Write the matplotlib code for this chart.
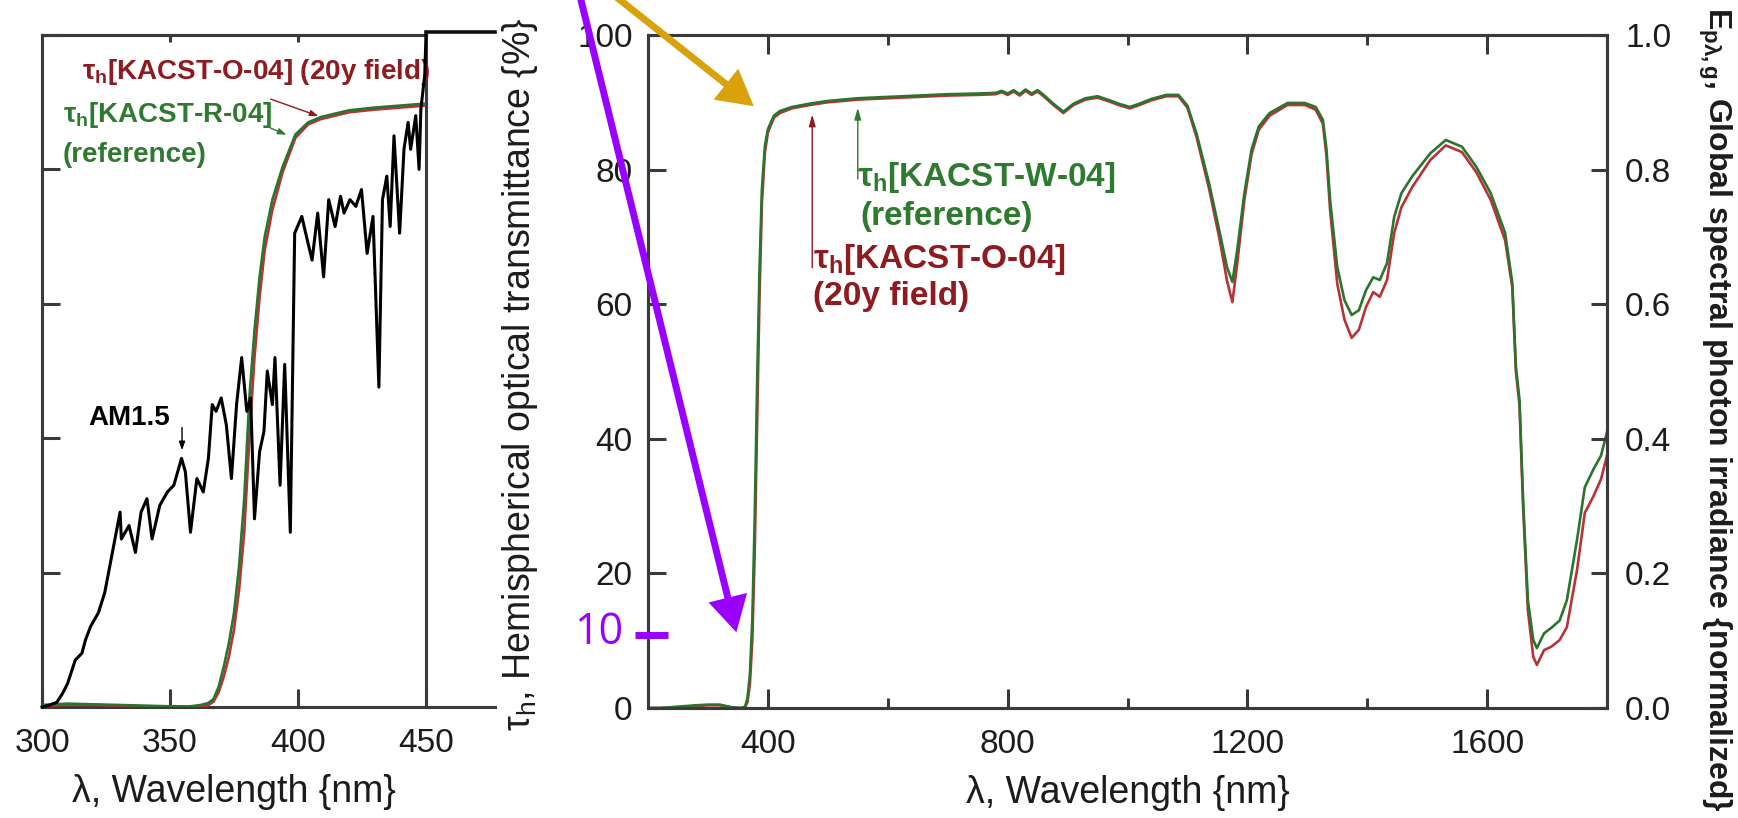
import matplotlib
matplotlib.use("Agg")
import matplotlib.pyplot as plt
from matplotlib.patches import FancyArrowPatch
from matplotlib.lines import Line2D

plt.rcParams['font.family'] = ['Liberation Sans', 'DejaVu Sans']
plt.rcParams['mathtext.fontset'] = 'custom'
plt.rcParams['mathtext.rm'] = 'Liberation Sans'
plt.rcParams['mathtext.it'] = 'Liberation Sans:italic'
plt.rcParams['mathtext.bf'] = 'Liberation Sans:bold'

# ---------------- data: left panel (300-450 nm) ----------------
left_wl_T = [300, 310, 320, 330, 340, 350, 358, 362, 365, 367, 369, 371, 373, 375, 377,
             379, 381, 383, 385, 387, 390, 394, 399, 404, 409, 420, 430, 440, 450]
left_T_R04 = [0.3, 0.5, 0.4, 0.3, 0.2, 0.1, 0.1, 0.3, 0.6, 1.2, 3.0, 6.0, 9.5, 14, 21,
              31, 46, 56, 64, 70, 75.5, 80.4, 85.2, 87, 87.8, 88.8, 89.2, 89.5, 89.8]
left_T_O04 = [0.2, 0.3, 0.3, 0.2, 0.1, 0.1, 0.1, 0.1, 0.3, 0.8, 2.2, 4.5, 7.5, 11.5, 17.5,
              26, 40, 52, 61, 68, 74, 79.6, 84.7, 86.7, 87.5, 88.5, 88.9, 89.2, 89.5]

am15_wl = [300, 303, 305.8, 308, 310, 313, 315.6, 317, 319, 322, 324.5, 327, 328, 330.5, 331,
           334, 336.5, 338.7, 341, 343, 346, 349, 351.5, 354.5, 356, 358, 360.5, 363, 365,
           366.5, 368, 370, 372, 374, 376, 378, 380, 381.5, 383, 385, 386.7, 388, 390, 391,
           393, 394.8, 397, 398.7, 401.5, 403, 405.5, 407.7, 410, 412, 414.5, 416.6, 418,
           420.3, 422.6, 424.8, 427, 429.3, 431.6, 433, 434.7, 436, 437.5, 439.7, 441.4, 443,
           444, 446, 447.3, 448, 449.5, 450]
am15_val = [0.0, 0.003, 0.007, 0.02, 0.035, 0.07, 0.08, 0.10, 0.12, 0.14, 0.17, 0.22, 0.24, 0.29, 0.25,
            0.27, 0.23, 0.29, 0.31, 0.25, 0.30, 0.32, 0.33, 0.37, 0.35, 0.26, 0.34, 0.32, 0.37,
            0.45, 0.44, 0.46, 0.42, 0.34, 0.45, 0.52, 0.44, 0.46, 0.28, 0.38, 0.41, 0.50, 0.45, 0.52,
            0.33, 0.51, 0.26, 0.705, 0.73, 0.705, 0.665, 0.735, 0.64, 0.755, 0.715, 0.76, 0.735,
            0.755, 0.745, 0.77, 0.675, 0.73, 0.476, 0.755, 0.79, 0.715, 0.85, 0.705, 0.83, 0.87,
            0.83, 0.88, 0.80, 0.89, 0.94, 1.0]

left_xticks = [300, 350, 400, 450]
left_yticks = [0, 20, 40, 60, 80, 100]

# ---------------- data: right panel (200-1800 nm) ----------------
right_wl = [200, 220, 250, 280, 300, 320, 340, 355, 362, 366, 370, 374, 378, 382, 386, 390, 395,
            400, 410, 420, 440, 470, 500, 550, 600, 650, 700, 750, 780, 790, 800, 810, 820, 830,
            840, 850, 860, 875, 893, 910, 930, 950, 970, 985, 1004, 1020, 1040, 1065, 1085, 1100,
            1115, 1136, 1154, 1166, 1175, 1183, 1195, 1207, 1219, 1237, 1267, 1296, 1314, 1326,
            1332, 1338, 1350, 1362, 1374, 1386, 1398, 1410, 1421, 1433, 1445, 1457, 1475, 1505,
            1531, 1558, 1582, 1606, 1630, 1642, 1648, 1654, 1660, 1668, 1677, 1683, 1695, 1707,
            1721, 1733, 1750, 1763, 1777, 1790, 1800]
T_W04 = [0.0, 0.0, 0.2, 0.4, 0.5, 0.5, 0.1, 0.0, 0.2, 1.5, 5, 13, 28, 48, 65, 77, 83.5,
         86, 88, 88.7, 89.3, 89.8, 90.2, 90.6, 90.8, 91.0, 91.2, 91.3, 91.4, 91.7, 91.3, 91.8, 91.2, 91.9,
         91.3, 91.8, 91.1, 89.9, 88.6, 89.8, 90.6, 90.9, 90.3, 89.8, 89.3, 89.8, 90.5, 91.1, 91.1, 89.5,
         85.4, 78, 70.6, 65.5, 63.3, 68, 76.5, 83, 86.4, 88.4, 89.9, 89.9, 89.3, 87.4,
         83, 75.5, 65.5, 60.6, 58.4, 59.1, 62.1, 64, 63.6, 66.1, 73, 76.5, 79, 82.4,
         84.4, 83.4, 80.4, 76.5, 70.6, 63.2, 50.7, 45.8, 30.9, 16, 10.1, 8.9, 11.1, 11.9,
         13, 16, 25, 32.8, 35.4, 37.5, 41]
T_O04 = [0.0, 0.0, 0.1, 0.3, 0.4, 0.4, 0.1, 0.0, 0.1, 0.9, 3.5, 10, 23, 42, 61, 75, 82.5,
         85.5, 87.7, 88.4, 89.1, 89.6, 90.0, 90.4, 90.6, 90.8, 91.0, 91.1, 91.2, 91.5, 91.1, 91.6, 91.0, 91.7,
         91.1, 91.6, 90.9, 89.7, 88.4, 89.6, 90.4, 90.7, 90.1, 89.6, 89.1, 89.6, 90.3, 90.9, 90.9, 89.2,
         84.9, 77.2, 69.5, 63.5, 60.3, 66, 75.5, 82.3, 85.9, 88.0, 89.6, 89.6, 88.9, 86.8,
         82, 74, 63, 57.7, 55, 56.2, 59.6, 61.8, 61.1, 63.6, 70.6, 74.4, 77.4, 81.4,
         83.6, 82.6, 79.6, 75.5, 69.5, 62.5, 50, 45, 30, 14.5, 7.6, 6.4, 8.6, 9.1,
         10.1, 12, 20.5, 29, 31.4, 34, 37.5]

right_xticks_major = [400, 800, 1200, 1600]
right_xticks_minor = [200, 600, 1000, 1400, 1800]
right_yticks = [0, 20, 40, 60, 80, 100]
right_y2ticks = [0.0, 0.2, 0.4, 0.6, 0.8, 1.0]

# ---------------- style ----------------
W, H = 1738, 818
GREEN = '#2A742D'
RED = '#B83236'
GREEN_T = '#2E7A2E'
RED_T = '#8E1B1F'
SPINE = '#3a3a3a'
TXT = '#1c1c1c'
PURPLE = '#9900FF'
ORANGE = '#DAA20A'
SPW = 2.2
TICKFS = 24
LABFS = 27
CLW = 1.9

fig = plt.figure(figsize=(W / 100, H / 100), dpi=100)

def frac(x0, y0, x1, y1):
    return [x0 / W, 1 - y1 / H, (x1 - x0) / W, (y1 - y0) / H]

# ---------------- left panel ----------------
ax1 = fig.add_axes(frac(42, 35, 426, 707))
ax1.plot(left_wl_T, left_T_O04, color=RED, lw=CLW, zorder=3)
ax1.plot(left_wl_T, left_T_R04, color=GREEN, lw=CLW, zorder=3)
ax1.set_xlim(300, 450)
ax1.set_ylim(0, 100)
ax1.set_xticks(left_xticks)
ax1.set_yticks(left_yticks)
ax1.tick_params(axis='both', direction='in', length=13, width=SPW, color=SPINE,
                labelsize=TICKFS, labelcolor=TXT)
ax1.tick_params(axis='x', pad=15, top=False)
ax1.tick_params(axis='y', left=True, right=True, labelleft=False)
for s in ax1.spines.values():
    s.set_linewidth(SPW)
    s.set_color(SPINE)
sec = ax1.secondary_xaxis('top')
sec.set_xticks(left_xticks[1:3])
sec.tick_params(direction='in', length=5, width=SPW, color=SPINE, labeltop=False)
sec.spines['top'].set_linewidth(SPW)
sec.spines['top'].set_color(SPINE)

ax1b = ax1.twinx()
ax1b.set_ylim(0, 1)
ax1b.plot(am15_wl, am15_val, color='black', lw=2.2, clip_on=False, zorder=2)
ax1b.tick_params(right=False, labelright=False)
for s in ax1b.spines.values():
    s.set_visible(False)

# extension lines beyond the left panel
ext = (495 - 42) / 384
ax1.add_line(Line2D([1, ext], [0, 0], transform=ax1.transAxes, color=SPINE, lw=SPW, clip_on=False))
ax1.add_line(Line2D([1, ext], [1.0045, 1.0045], transform=ax1.transAxes, color='#111111', lw=2.6, clip_on=False))

ax1.set_xlabel('λ, Wavelength {nm}', fontsize=LABFS, color=TXT)
ax1.xaxis.set_label_coords(0.5, -0.100)

ax1.text(0.104, 0.945, 'τ$_\\mathregular{h}$[KACST-O-04] (20y field)', transform=ax1.transAxes,
         color=RED_T, fontsize=20, fontweight='bold', ha='left', va='center')
ax1.text(0.055, 0.881, 'τ$_\\mathregular{h}$[KACST-R-04]', transform=ax1.transAxes,
         color=GREEN_T, fontsize=20, fontweight='bold', ha='left', va='center')
ax1.text(0.055, 0.821, '(reference)', transform=ax1.transAxes,
         color=GREEN_T, fontsize=20, fontweight='bold', ha='left', va='center')
ax1.text(0.12, 0.43, 'AM1.5', transform=ax1.transAxes,
         color='black', fontsize=20, fontweight='bold', ha='left', va='center')
ax1.annotate('', xy=(409, 87.8), xytext=(388.3, 90.6),
             arrowprops=dict(arrowstyle='-|>,head_length=0.5,head_width=0.18', color=RED_T, lw=1.0))
ax1.annotate('', xy=(396.5, 85.0), xytext=(388.3, 86.3),
             arrowprops=dict(arrowstyle='-|>,head_length=0.5,head_width=0.18', color=GREEN_T, lw=1.0))
ax1.annotate('', xy=(354.7, 37.8), xytext=(354.7, 42.0),
             arrowprops=dict(arrowstyle='-|>,head_length=0.5,head_width=0.18', color='black', lw=1.0))

# ---------------- right panel ----------------
ax2 = fig.add_axes(frac(648, 35, 1607, 708))
ax2.plot(right_wl, T_O04, color=RED, lw=CLW, zorder=3)
ax2.plot(right_wl, T_W04, color=GREEN, lw=CLW, zorder=3)
ax2.set_xlim(200, 1800)
ax2.set_ylim(0, 100)
ax2.set_xticks(right_xticks_major)
ax2.set_xticks(right_xticks_minor, minor=True)
ax2.set_yticks(right_yticks)
ax2.tick_params(axis='both', which='both', direction='in', width=SPW, color=SPINE,
                labelsize=TICKFS, labelcolor=TXT)
ax2.tick_params(axis='x', which='major', length=14, pad=15, top=True)
ax2.tick_params(axis='x', which='minor', length=7, top=True)
ax2.tick_params(axis='y', length=13, pad=11, right=False)
for s in ax2.spines.values():
    s.set_linewidth(SPW)
    s.set_color(SPINE)
ax2.set_xlabel('λ, Wavelength {nm}', fontsize=LABFS, color=TXT)
ax2.xaxis.set_label_coords(0.5, -0.100)

ax2b = ax2.twinx()
ax2b.set_ylim(0, 1)
ax2b.set_yticks(right_y2ticks)
ax2b.set_yticklabels([f'{v:.1f}' for v in right_y2ticks])
ax2b.tick_params(direction='in', length=11.5, width=SPW, color=SPINE, labelsize=TICKFS,
                 labelcolor=TXT, pad=13)
for s in ax2b.spines.values():
    s.set_linewidth(SPW)
    s.set_color(SPINE)

ax2.text(0.218, 0.789, 'τ$_\\mathregular{h}$[KACST-W-04]', transform=ax2.transAxes,
         color=GREEN_T, fontsize=24, fontweight='bold', ha='left', va='center')
ax2.text(0.221, 0.7296, '(reference)', transform=ax2.transAxes,
         color=GREEN_T, fontsize=24, fontweight='bold', ha='left', va='center')
ax2.text(0.172, 0.667, 'τ$_\\mathregular{h}$[KACST-O-04]', transform=ax2.transAxes,
         color=RED_T, fontsize=24, fontweight='bold', ha='left', va='center')
ax2.text(0.172, 0.611, '(20y field)', transform=ax2.transAxes,
         color=RED_T, fontsize=24, fontweight='bold', ha='left', va='center')
ax2.annotate('', xy=(474, 88.6), xytext=(474, 65.0),
             arrowprops=dict(arrowstyle='-|>,head_length=0.7,head_width=0.2', color=RED_T, lw=1.0))
ax2.annotate('', xy=(550, 89.6), xytext=(550, 78.2),
             arrowprops=dict(arrowstyle='-|>,head_length=0.7,head_width=0.2', color=GREEN_T, lw=1.0))

# axis titles placed between / beside panels
fig.text(520 / W, 1 - 374 / H, 'τ$_\\mathregular{h}$, Hemispherical optical transmittance {%}',
         rotation=90, ha='center', va='center', fontsize=LABFS, color=TXT)
fig.text(1715 / W, 1 - 409 / H,
         'E$_{\\mathbf{p\\lambda,g}}$, Global spectral photon irradiance {normalized}',
         rotation=270, ha='center', va='center', fontsize=23, fontweight='bold', color=TXT)

# ---------------- overlay annotations ----------------
def fig_arrow(p0, p1, color):
    a = FancyArrowPatch((p0[0] / W, 1 - p0[1] / H), (p1[0] / W, 1 - p1[1] / H),
                        transform=fig.transFigure, arrowstyle='-|>,head_length=0.45,head_width=0.25',
                        mutation_scale=40, color=color, lw=5, joinstyle='miter',
                        capstyle='butt', zorder=10)
    fig.add_artist(a)

fig_arrow((579, -8), (737, 635), PURPLE)
fig_arrow((610, -8), (756, 108), ORANGE)
fig.add_artist(Line2D([635 / W, 668 / W], [1 - 635 / H, 1 - 635 / H], transform=fig.transFigure,
                      color=PURPLE, lw=5, solid_capstyle='butt', zorder=10))
fig.text(599 / W, 1 - 633 / H, '10', ha='center', va='center', fontsize=31,
         family=['Open Sans', 'DejaVu Sans'], color=PURPLE)

fig.savefig('out.png', dpi=100)
